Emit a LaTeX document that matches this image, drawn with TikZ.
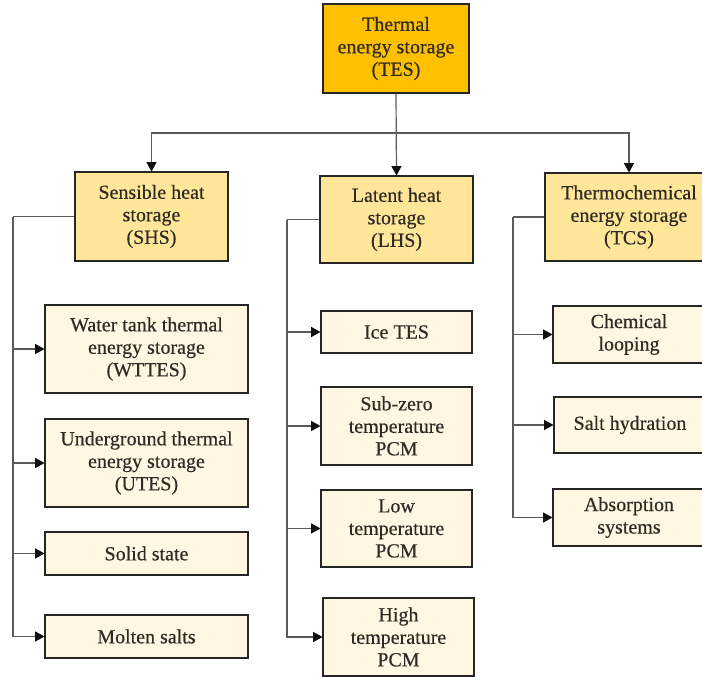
\documentclass[tikz,border=0pt]{standalone}
\usepackage{fontspec}
\setmainfont{Liberation Serif}
\newfontfamily\boxfont[BoldFont={Liberation Serif},BoldFeatures={FakeBold=0.4}]{Liberation Serif}
\usetikzlibrary{arrows.meta}
\definecolor{tesfill}{HTML}{FFC000}
\definecolor{midfill}{HTML}{FFE699}
\definecolor{leaffill}{HTML}{FFF7E2}
\definecolor{boxline}{HTML}{262626}
\definecolor{conline}{HTML}{5a5a5a}
\definecolor{tipcol}{HTML}{111111}
\definecolor{txt}{HTML}{2e2a24}
\tikzset{
  box/.style={draw=boxline, line width=1.8pt, inner sep=0pt, align=center,
    text=txt, font=\boxfont\bfseries\fontsize{20}{22.5}\selectfont},
  topbox/.style={box, fill=tesfill},
  midbox/.style={box, fill=midfill},
  leafbox/.style={box, fill=leaffill},
  conn/.style={draw=conline, line width=1.2pt},
  arr/.style={conn, -{Triangle[length=9.5pt,width=10pt,fill=tipcol,color=tipcol]}, shorten >=-0.5pt},
}
\begin{document}
\begin{tikzpicture}[x=1pt,y=-1pt]
\useasboundingbox (0,0) rectangle (702,677);
\clip (0,0) rectangle (702,677);
\fill[white] (0,0) rectangle (702,677);
% top
\node[topbox, minimum width=146pt, minimum height=89pt] (tes) at (396,48.5) {Thermal\\energy storage\\(TES)};
% middle
\node[midbox, minimum width=153pt, minimum height=89pt] (shs) at (151.5,216.5) {Sensible heat\\storage\\(SHS)};
\node[midbox, minimum width=153pt, minimum height=87pt] (lhs) at (396.5,219.5) {Latent heat\\storage\\(LHS)};
\node[midbox, minimum width=168pt, minimum height=88pt] (tcs) at (629,217) {Thermochemical\\energy storage\\(TCS)};
% SHS children
\node[leafbox, minimum width=203pt, minimum height=88pt] (wttes) at (146.5,349) {Water tank thermal\\energy storage\\(WTTES)};
\node[leafbox, minimum width=203pt, minimum height=88pt] (utes) at (146.5,463) {Underground thermal\\energy storage\\(UTES)};
\node[leafbox, minimum width=203pt, minimum height=43pt] (solid) at (146.5,553.5) {Solid state};
\node[leafbox, minimum width=203pt, minimum height=43pt] (molten) at (146.5,636.5) {Molten salts};
% LHS children
\node[leafbox, minimum width=151pt, minimum height=42pt] (ice) at (396.5,332) {Ice TES};
\node[leafbox, minimum width=151pt, minimum height=78pt] (subz) at (396.5,426) {Sub-zero\\temperature\\PCM};
\node[leafbox, minimum width=151pt, minimum height=77pt] (lowt) at (396.5,528.5) {Low\\temperature\\PCM};
\node[leafbox, minimum width=151pt, minimum height=78pt] (hight) at (398.5,637) {High\\temperature\\PCM};
% TCS children
\node[leafbox, minimum width=152pt, minimum height=57pt] (chem) at (629,334.5) {Chemical\\looping};
\node[leafbox, minimum width=152pt, minimum height=56pt] (salt) at (630,425) {Salt hydration};
\node[leafbox, minimum width=152pt, minimum height=57pt] (absorp) at (629,517.5) {Absorption\\systems};
% top connectors
\coordinate (hub) at (tes.south |- 0,133);
\draw[arr] (tes.south) -- (lhs.north);
\draw[arr] (hub) -| (shs.north);
\draw[arr] (hub) -| (tcs.north);
% SHS spine
\coordinate (spa) at (13,216.5);
\draw[conn] (shs.west) -- (spa);
\draw[arr] (spa) |- (molten.west);
\draw[arr] (spa |- wttes.west) -- (wttes.west);
\draw[arr] (spa |- utes.west) -- (utes.west);
\draw[arr] (spa |- solid.west) -- (solid.west);
% LHS spine
\coordinate (spb) at (287,219.5);
\draw[conn] (lhs.west) -- (spb);
\draw[arr] (spb) |- (hight.west);
\draw[arr] (spb |- ice.west) -- (ice.west);
\draw[arr] (spb |- subz.west) -- (subz.west);
\draw[arr] (spb |- lowt.west) -- (lowt.west);
% TCS spine
\coordinate (spc) at (513,217);
\draw[conn] (tcs.west) -- (spc);
\draw[arr] (spc) |- (absorp.west);
\draw[arr] (spc |- chem.west) -- (chem.west);
\draw[arr] (spc |- salt.west) -- (salt.west);
\end{tikzpicture}
\end{document}
